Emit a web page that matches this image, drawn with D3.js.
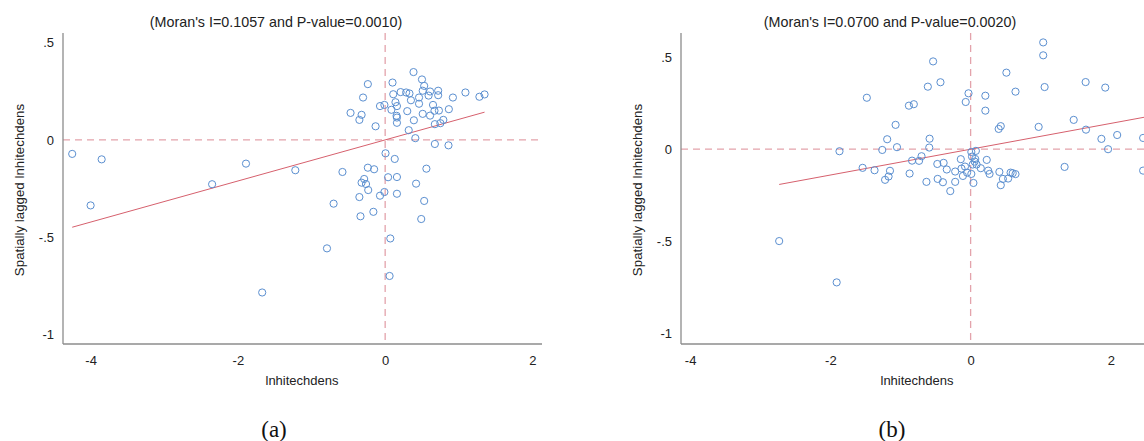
<!DOCTYPE html>
<html>
<head>
<meta charset="utf-8">
<script src="https://cdn.jsdelivr.net/npm/d3@7"></script>
<style>
  body { margin: 0; background: #fff; }
  svg { display: block; font-family: "Liberation Sans", Arial, sans-serif; }
  .axis path { stroke: #8c8c8c; stroke-width: 1.3; }
  .axis text { fill: #222; font-size: 13px; }
</style>
</head>
<body>
<svg id="chart" width="1144" height="441"></svg>
<script>
// ---- data ----
const xTicks = [-4, -2, 0, 2];
const xTickLabels = ["-4", "-2", "0", "2"];
const yTicks = [-1, -0.5, 0, 0.5];
const yTickLabels = ["-1", "-.5", "0", ".5"];

const titleA = "(Moran's I=0.1057 and P-value=0.0010)";
const titleB = "(Moran's I=0.0700 and P-value=0.0020)";
const moranA = 0.1057;
const moranB = 0.0700;

const leftX = [-4.25, -3.85, -4.0, -2.35, -1.89, -1.22, -1.67, -0.70, -0.79, -0.35,
  -0.335, -0.16, -0.23, -0.07, -0.01, 0.16, 0.42, 0.53, 0.49, 0.07,
  0.06, -0.32, -0.26, 0.385, 0.50, 0.53, -0.235, 0.10, -0.30, 0.11,
  0.21, 0.285, 0.33, 0.51, 0.59, 0.61, 0.72, 0.72, 0.92, 1.09,
  1.28, 1.35, 0.46, 0.35, 0.46, 0.14, 0.16, -0.07, -0.01, 0.085,
  0.65, 0.67, 0.73, 0.865, 0.30, 0.51, 0.61, -0.47, -0.32, -0.35,
  0.155, 0.16, 0.16, 0.39, 0.79, 0.675, 0.75, -0.13, 0.32, 0.41,
  0.675, 0.86, 0.005, 0.13, -0.58, -0.235, -0.15, 0.56, 0.04, 0.16,
  -0.285];
const leftY = [-0.072, -0.10, -0.337, -0.228, -0.122, -0.156, -0.785, -0.328, -0.558, -0.294,
  -0.393, -0.37, -0.258, -0.287, -0.268, -0.277, -0.225, -0.314, -0.407, -0.507,
  -0.70, -0.22, -0.227, 0.349, 0.311, 0.278, 0.287, 0.295, 0.218, 0.235,
  0.246, 0.244, 0.239, 0.253, 0.228, 0.249, 0.253, 0.23, 0.218, 0.244,
  0.222, 0.234, 0.218, 0.204, 0.186, 0.194, 0.174, 0.174, 0.18, 0.155,
  0.18, 0.15, 0.151, 0.158, 0.148, 0.134, 0.125, 0.139, 0.129, 0.103,
  0.124, 0.115, 0.088, 0.101, 0.103, 0.081, 0.086, 0.07, 0.05, 0.009,
  -0.021, -0.028, -0.069, -0.098, -0.165, -0.143, -0.151, -0.148, -0.192, -0.191,
  -0.201];

const rightX = [-1.48, -1.07, -1.19, -1.26, -1.05, -1.87, -1.54, -1.37, -1.15, -1.17,
  -1.22, -2.73, -1.91, 1.035, 1.035, -0.535, 0.51, 1.64, 1.92, -0.61,
  -0.43, 1.055, 0.64, -0.03, 0.21, -0.07, 0.21, -0.88, -0.81, -0.585,
  -0.59, 0.43, 0.40, 0.97, 1.47, 1.645, 1.865, 2.09, 1.96, 2.46,
  2.46, 1.34, 0.075, 0.01, 0.02, 0.066, 0.057, 0.03, 0.085, 0.01,
  0.04, -0.835, -0.735, -0.70, -0.87, -0.475, -0.385, -0.14, 0.23, -0.34,
  -0.22, -0.13, -0.08, -0.05, -0.11, 0.145, 0.25, 0.27, 0.41, 0.57,
  0.60, 0.64, 0.46, 0.535, 0.43, -0.47, -0.395, -0.63, -0.22, -0.29];
const rightY = [0.279, 0.132, 0.054, -0.004, 0.011, -0.011, -0.101, -0.114, -0.117, -0.148,
  -0.166, -0.498, -0.722, 0.579, 0.509, 0.476, 0.415, 0.364, 0.334, 0.339,
  0.363, 0.337, 0.312, 0.303, 0.29, 0.256, 0.209, 0.236, 0.244, 0.057,
  0.009, 0.125, 0.11, 0.121, 0.159, 0.106, 0.056, 0.077, 0.0, 0.061,
  -0.116, -0.096, -0.009, -0.015, -0.04, -0.053, -0.067, -0.083, -0.083, -0.134,
  -0.183, -0.062, -0.063, -0.038, -0.132, -0.08, -0.074, -0.054, -0.058, -0.11,
  -0.121, -0.105, -0.094, -0.127, -0.145, -0.103, -0.116, -0.134, -0.123, -0.127,
  -0.13, -0.135, -0.161, -0.159, -0.195, -0.161, -0.179, -0.177, -0.177, -0.227];

const svg = d3.select("#chart");

function drawPanel(cfg) {
  const x = d3.scaleLinear().domain(cfg.xDomain).range(cfg.xRange);
  const y = d3.scaleLinear().domain(cfg.yDomain).range([344, 33]);
  const g = svg.append("g");

  // reference lines at zero
  g.append("line")
    .attr("x1", cfg.xRange[0]).attr("x2", cfg.xRange[1])
    .attr("y1", y(0)).attr("y2", y(0))
    .attr("stroke", "#e3a3ab").attr("stroke-width", 1.3)
    .attr("stroke-dasharray", "7,5");
  g.append("line")
    .attr("x1", x(0)).attr("x2", x(0))
    .attr("y1", y(cfg.yDomain[1])).attr("y2", y(cfg.yDomain[0]))
    .attr("stroke", "#e3a3ab").attr("stroke-width", 1.3)
    .attr("stroke-dasharray", "7,5");

  // fitted line, slope = Moran's I
  const x0 = d3.min(cfg.xs), x1 = d3.max(cfg.xs) + cfg.lineExtra;
  g.append("line")
    .attr("x1", x(x0)).attr("y1", y(cfg.slope * x0))
    .attr("x2", x(x1)).attr("y2", y(cfg.slope * x1))
    .attr("stroke", "#d6606d").attr("stroke-width", 1);

  // points
  const pts = cfg.xs.map((v, i) => ({ x: v, y: cfg.ys[i] }));
  g.selectAll("circle.pt")
    .data(pts)
    .join("circle")
    .attr("class", "pt")
    .attr("cx", d => x(d.x))
    .attr("cy", d => y(d.y))
    .attr("r", 3.6)
    .attr("fill", "none")
    .attr("stroke", "#5b8fd0")
    .attr("stroke-width", 1);

  // axes
  g.append("g")
    .attr("class", "axis")
    .attr("transform", `translate(${cfg.xRange[0]},0)`)
    .call(d3.axisLeft(y).tickValues(yTicks).tickSize(0).tickPadding(9)
      .tickFormat((d, i) => yTickLabels[i]))
    .call(a => a.select(".domain").attr("d", `M0,${y(cfg.yDomain[1])}V344`));

  g.append("g")
    .attr("class", "axis")
    .attr("transform", "translate(0,344)")
    .call(d3.axisBottom(x).tickValues(xTicks).tickSize(0).tickPadding(12)
      .tickFormat((d, i) => xTickLabels[i]))
    .call(a => a.select(".domain").attr("d", `M${cfg.xRange[0]},0H${cfg.xRange[1]}`));

  // texts
  g.append("text")
    .attr("x", cfg.titleX).attr("y", 27)
    .attr("text-anchor", "middle")
    .attr("font-size", "14.3px").attr("fill", "#222")
    .text(cfg.title);

  g.append("text")
    .attr("x", cfg.xLabelX).attr("y", 385)
    .attr("text-anchor", "middle")
    .attr("font-size", "13px").attr("fill", "#222")
    .text("lnhitechdens");

  g.append("text")
    .attr("transform", `translate(${cfg.yLabelX},190) rotate(-90)`)
    .attr("text-anchor", "middle")
    .attr("font-size", "13.3px").attr("fill", "#222")
    .text("Spatially lagged lnhitechdens");

  svg.append("text")
    .attr("x", cfg.captionX).attr("y", 437)
    .attr("text-anchor", "middle")
    .attr("font-family", "'Liberation Serif', 'DejaVu Serif', serif")
    .attr("font-size", "23px").attr("fill", "#111")
    .text(cfg.caption);
}

drawPanel({
  xs: leftX, ys: leftY, slope: moranA, lineExtra: 0,
  xDomain: [-4.375, 2.13], xRange: [63, 542],
  yDomain: [-1.05, 0.55],
  title: titleA, titleX: 276, xLabelX: 302, yLabelX: 24,
  caption: "(a)", captionX: 274
});

drawPanel({
  xs: rightX, ys: rightY, slope: moranB, lineExtra: 0.6,
  xDomain: [-4.13, 3.0], xRange: [681, 1181],
  yDomain: [-1.056, 0.63],
  title: titleB, titleX: 890, xLabelX: 917, yLabelX: 642,
  caption: "(b)", captionX: 892
});
</script>
</body>
</html>
